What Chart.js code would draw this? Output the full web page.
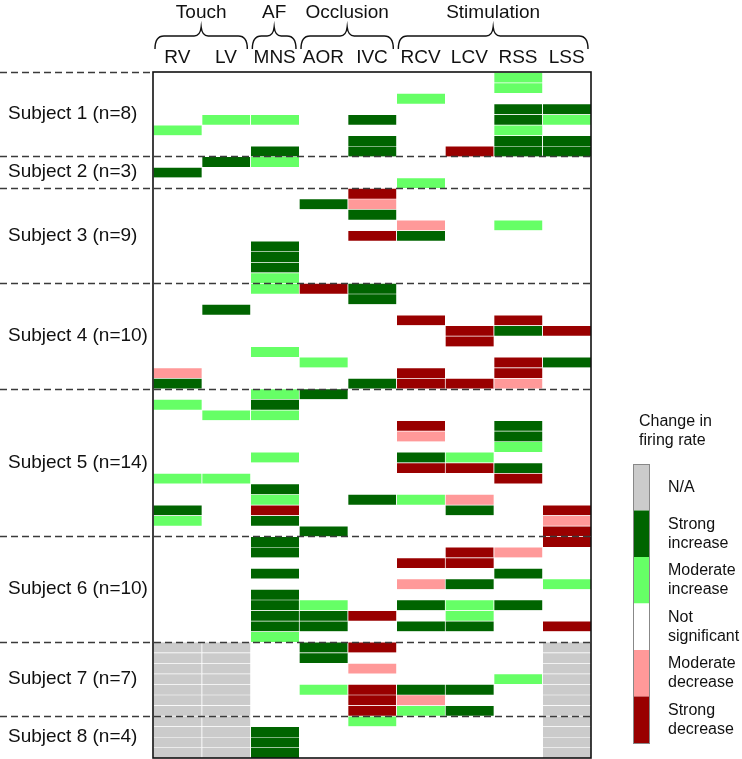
<!DOCTYPE html>
<html>
<head>
<meta charset="utf-8">
<script src="https://cdn.jsdelivr.net/npm/chart.js@4"></script>
<style>
  html, body { margin:0; padding:0; background:#fff; }
  #wrap { width:742px; height:759px; }
</style>
</head>
<body>
<div id="wrap"><canvas id="heat"></canvas></div>
<script>
// ====== data ======
const NA = 9; // not available (grey)
const columns = ['RV', 'LV', 'MNS', 'AOR', 'IVC', 'RCV', 'LCV', 'RSS', 'LSS'];
const groupNames = ['Touch', 'AF', 'Occlusion', 'Stimulation'];
const groupFirst = [0, 2, 3, 5];
const groupLast  = [1, 2, 4, 8];
const subjects = ['Subject 1', 'Subject 2', 'Subject 3', 'Subject 4', 'Subject 5', 'Subject 6', 'Subject 7', 'Subject 8'];
const subjectN = [8, 3, 9, 10, 14, 10, 7, 4];

// one value per neuron, top to bottom; a line per subject
// 2 strong increase, 1 moderate increase, 0 n.s., -1 moderate decrease, -2 strong decrease
const RV = [
  0,0,0,0,0,1,0,0,
  0,2,0,
  0,0,0,0,0,0,0,0,0,
  0,0,0,0,0,0,0,0,-1,2,
  0,1,0,0,0,0,0,0,1,0,0,2,1,0,
  0,0,0,0,0,0,0,0,0,0,
  NA,NA,NA,NA,NA,NA,NA,
  NA,NA,NA,NA
];
const LV = [
  0,0,0,0,1,0,0,0,
  2,0,0,
  0,0,0,0,0,0,0,0,0,
  0,0,2,0,0,0,0,0,0,0,
  0,0,1,0,0,0,0,0,1,0,0,0,0,0,
  0,0,0,0,0,0,0,0,0,0,
  NA,NA,NA,NA,NA,NA,NA,
  NA,NA,NA,NA
];
const MNS = [
  0,0,0,0,1,0,0,2,
  1,0,0,
  0,0,0,0,0,2,2,2,1,
  1,0,0,0,0,0,1,0,0,0,
  1,2,1,0,0,0,1,0,0,2,1,-2,2,0,
  2,2,0,2,0,2,2,2,2,1,
  0,0,0,0,0,0,0,
  0,2,2,2
];
const AOR = [
  0,0,0,0,0,0,0,0,
  0,0,0,
  0,2,0,0,0,0,0,0,0,
  -2,0,0,0,0,0,0,1,0,0,
  2,0,0,0,0,0,0,0,0,0,0,0,0,2,
  0,0,0,0,0,0,1,2,2,0,
  2,2,0,0,1,0,0,
  0,0,0,0
];
const IVC = [
  0,0,0,0,2,0,2,2,
  0,0,0,
  -2,-1,2,0,-2,0,0,0,0,
  2,2,0,0,0,0,0,0,0,2,
  0,0,0,0,0,0,0,0,0,0,2,0,0,0,
  0,0,0,0,0,0,0,-2,0,0,
  -2,0,-1,0,-2,-2,-2,
  1,0,0,0
];
const RCV = [
  0,0,1,0,0,0,0,0,
  0,0,1,
  0,0,0,-1,2,0,0,0,0,
  0,0,0,-2,0,0,0,0,-2,-2,
  0,0,0,-2,-1,0,2,-2,0,0,1,0,0,0,
  0,0,-2,0,-1,0,2,0,2,0,
  0,0,0,0,2,-1,1,
  0,0,0,0
];
const LCV = [
  0,0,0,0,0,0,0,-2,
  0,0,0,
  0,0,0,0,0,0,0,0,0,
  0,0,0,0,-2,-2,0,0,0,-2,
  0,0,0,0,0,0,1,-2,0,0,-1,2,0,0,
  0,-2,-2,0,2,0,1,1,2,0,
  0,0,0,0,2,0,2,
  0,0,0,0
];
const RSS = [
  1,1,0,2,2,1,2,2,
  0,0,0,
  0,0,0,1,0,0,0,0,0,
  0,0,0,-2,2,0,0,-2,-2,-1,
  0,0,0,2,2,1,0,2,-2,0,0,0,0,0,
  0,-1,0,2,0,0,2,0,0,0,
  0,0,0,1,0,0,0,
  0,0,0,0
];
const LSS = [
  0,0,0,2,1,0,2,2,
  0,0,0,
  0,0,0,0,0,0,0,0,0,
  0,0,0,0,-2,0,0,2,0,0,
  0,0,0,0,0,0,0,0,0,0,0,-2,-1,-2,
  -2,0,0,0,1,0,0,0,-2,0,
  NA,NA,NA,NA,NA,NA,NA,
  NA,NA,NA,NA
];

const legendTitle = ['Change in', 'firing rate'];
const legendLabels = [['N/A'], ['Strong', 'increase'], ['Moderate', 'increase'], ['Not', 'significant'], ['Moderate', 'decrease'], ['Strong', 'decrease']];
const legendCodes = [NA, 2, 1, 0, -1, -2];

// ====== estilos ======
const FONT = 'Arial, "Liberation Sans", sans-serif';
const stateColor = { '9':'#cbcbcb', '2':'#006400', '1':'#66ff66', '0':'#ffffff', '-1':'#ff9999', '-2':'#990000' };

const cols = [RV, LV, MNS, AOR, IVC, RCV, LCV, RSS, LSS];
const nRows = RV.length;

// subject boundaries (row index where each subject starts)
const starts = [];
let acc = 0;
subjectN.forEach(n => { starts.push(acc); acc += n; });
const centers = subjectN.map((n, i) => starts[i] + n / 2);

// one dataset per row; a floating bar [r, r+1] per non-blank cell
const datasets = [];
for (let r = 0; r < nRows; r++){
  datasets.push({
    data: cols.map(c => c[r] ? [r, r + 1] : null),
    backgroundColor: cols.map(c => stateColor[String(c[r])]),
    borderColor: 'rgba(255,255,255,0.75)',
    borderWidth: { top: 1, left: 1, right: 0, bottom: 0 },
    borderSkipped: false
  });
}

// --- dibujos extra: marco, separadores, cabeceras, leyenda ---
function brace(ctx, l, r, yTip, yLine, yEnd){
  const m = (l + r) / 2;
  ctx.beginPath();
  ctx.moveTo(l, yEnd);
  ctx.quadraticCurveTo(l, yLine, l + 9, yLine);
  ctx.lineTo(m - 7, yLine);
  ctx.quadraticCurveTo(m - 1, yLine, m, yTip);
  ctx.quadraticCurveTo(m + 1, yLine, m + 7, yLine);
  ctx.lineTo(r - 9, yLine);
  ctx.quadraticCurveTo(r, yLine, r, yEnd);
  ctx.stroke();
}

const decor = {
  id: 'decor',
  afterDraw(chart){
    const { ctx, chartArea: a, scales: { x, y } } = chart;
    const colW = (a.right - a.left) / columns.length;
    ctx.save();

    // separadores de sujetos
    ctx.strokeStyle = '#3a3a3a';
    ctx.lineWidth = 1.3;
    ctx.setLineDash([7, 4]);
    starts.forEach(s => {
      const yy = Math.round(y.getPixelForValue(s)) + 0.5;
      ctx.beginPath();
      ctx.moveTo(0, yy);
      ctx.lineTo(s === 0 ? a.left : a.right, yy);
      ctx.stroke();
    });
    ctx.setLineDash([]);

    // marco
    ctx.strokeStyle = '#111';
    ctx.lineWidth = 1.6;
    ctx.strokeRect(a.left, a.top, a.right - a.left, a.bottom - a.top);

    // grupos + llaves
    ctx.fillStyle = '#111';
    ctx.font = `19px ${FONT}`;
    ctx.textAlign = 'center';
    ctx.textBaseline = 'alphabetic';
    ctx.lineWidth = 1.4;
    groupNames.forEach((g, i) => {
      const l = x.getPixelForValue(groupFirst[i]) - colW / 2 + 2;
      const r = x.getPixelForValue(groupLast[i]) + colW / 2 - 3;
      ctx.fillText(g, (l + r) / 2, 18);
      brace(ctx, l, r, 27, 36, 49);
    });

    // leyenda
    const bx = 633, bw = 16, by = 464, bh = 46.5;
    ctx.textAlign = 'left';
    ctx.textBaseline = 'middle';
    ctx.font = `16px ${FONT}`;
    ctx.fillText(legendTitle[0], 639, 422);
    ctx.fillText(legendTitle[1], 639, 441);
    legendCodes.forEach((c, i) => {
      const top = by + i * bh;
      ctx.fillStyle = stateColor[String(c)];
      ctx.fillRect(bx, top, bw, bh);
      ctx.fillStyle = '#111';
      const lines = legendLabels[i];
      const cy = top + bh / 2;
      lines.forEach((t, k) => {
        ctx.fillText(t, 668, cy + (k - (lines.length - 1) / 2) * 19);
      });
    });
    ctx.strokeStyle = '#888';
    ctx.lineWidth = 1;
    ctx.strokeRect(bx + 0.5, by + 0.5, bw, bh * legendCodes.length);
    ctx.restore();
  }
};

new Chart(document.getElementById('heat'), {
  type: 'bar',
  data: { labels: columns, datasets },
  options: {
    responsive: true, maintainAspectRatio: false, animation: false,
    layout: { padding: { left: 8, right: 151, top: 0, bottom: 1 } },
    datasets: { bar: { grouped: false, barPercentage: 1, categoryPercentage: 1 } },
    plugins: { legend: { display: false }, tooltip: { enabled: false } },
    scales: {
      x: {
        type: 'category', position: 'top',
        grid: { display: false, drawTicks: false }, border: { display: false },
        ticks: { color: '#111', font: { family: FONT, size: 19 }, padding: 3, maxRotation: 0, autoSkip: false },
        afterFit: s => { s.height = 72; }
      },
      y: {
        type: 'linear', min: 0, max: nRows, reverse: true,
        grid: { display: false, drawTicks: false }, border: { display: false },
        afterBuildTicks: s => { s.ticks = centers.map(v => ({ value: v })); },
        ticks: {
          color: '#111', crossAlign: 'far', padding: 0,
          font: { family: FONT, size: 19 },
          callback: (v, i) => `${subjects[i]} (n=${subjectN[i]})`
        },
        afterFit: s => { s.width = 145; s.paddingTop = 0; s.paddingBottom = 0; }
      }
    }
  },
  plugins: [decor]
});
</script>
</body>
</html>
